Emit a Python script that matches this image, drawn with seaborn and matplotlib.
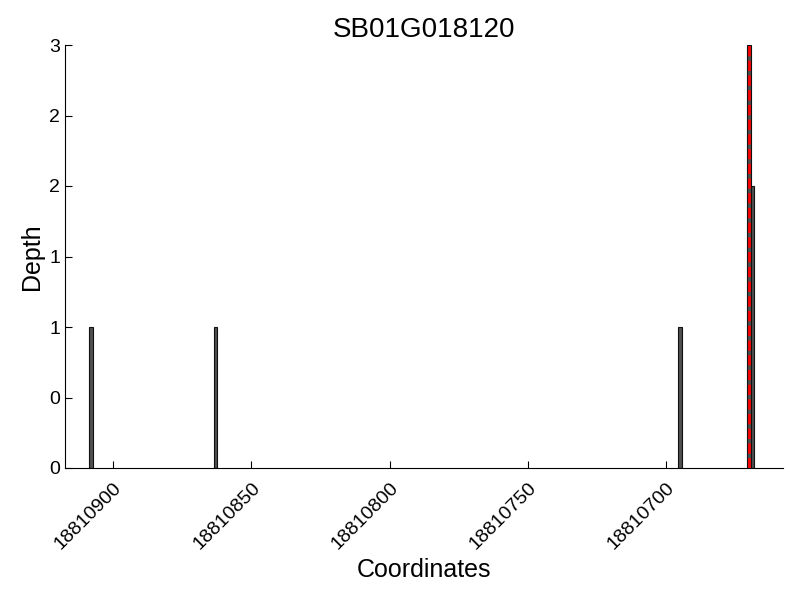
import numpy as np
import pandas as pd
import matplotlib
matplotlib.use('Agg')
import matplotlib.pyplot as plt
import matplotlib.ticker as mticker
import seaborn as sns

# Data
gene = 'SB01G018120'
positions = [18810908, 18810863, 18810695, 18810670, 18810669]
depths = [1, 1, 1, 3, 2]
marker_pos = 18810670

df = pd.DataFrame({'Coordinates': positions, 'Depth': depths})

# Style
sns.set_style('ticks')
plt.rcParams['font.family'] = ['Liberation Sans', 'DejaVu Sans']
plt.rcParams['xtick.direction'] = 'in'
plt.rcParams['ytick.direction'] = 'in'
plt.rcParams['text.color'] = 'black'
plt.rcParams['axes.labelcolor'] = 'black'
plt.rcParams['xtick.color'] = 'black'
plt.rcParams['ytick.color'] = 'black'
plt.rcParams['axes.edgecolor'] = 'black'

fig = plt.figure(figsize=(8, 6), dpi=100)
ax = fig.add_axes([0.081, 0.22, 0.898, 0.705])

# Coverage bars
sns.barplot(data=df, x='Coordinates', y='Depth', native_scale=True, orient='x',
            width=1.3, color='#505050', edgecolor='#111111', linewidth=0.8,
            saturation=1, ax=ax)

# Marker line
ax.axvline(marker_pos, color='red', linestyle='--', linewidth=2, zorder=3)

# Axes
ax.set_xlim(18810917.5, 18810657.7)
ax.set_ylim(0, 3)
ax.xaxis.set_major_locator(mticker.MultipleLocator(50))
ax.xaxis.set_major_formatter(mticker.FormatStrFormatter('%d'))
ax.yaxis.set_major_locator(mticker.MultipleLocator(0.5))
ax.yaxis.set_major_formatter(mticker.FormatStrFormatter('%d'))
ax.tick_params(axis='both', labelsize=14, length=5)
ax.tick_params(axis='x', pad=8)
plt.setp(ax.get_xticklabels(), rotation=45, ha='right', va='top', rotation_mode='anchor')

sns.despine(ax=ax)

ax.set_title(gene, fontsize=20)
ax.set_xlabel('Coordinates', fontsize=18)
ax.set_ylabel('Depth', fontsize=18)

fig.savefig('out.png', dpi=100)
